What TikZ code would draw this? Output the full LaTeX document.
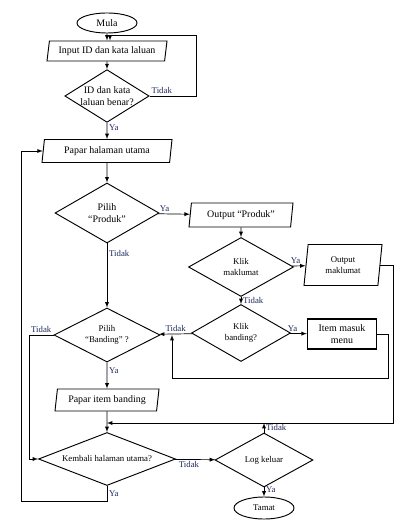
\documentclass[tikz,border=0pt]{standalone}
\usepackage{fontspec}
\setmainfont{Liberation Serif}
\definecolor{labelcol}{RGB}{30,40,90}
\usetikzlibrary{shapes.geometric,arrows}
\newcommand{\fcbig}{\fontsize{8.5}{10.5}\selectfont}
\newcommand{\fcsmall}{\fontsize{7.5}{9.5}\selectfont}

\begin{document}
\begin{tikzpicture}[x=0.3mm,y=-0.3mm,>=latex,semithick,
  terminal/.style={ellipse,draw,thick,inner sep=0pt,minimum width=18mm},
  io/.style={trapezium,trapezium left angle=78,trapezium right angle=102,
    trapezium stretches body,draw,thick,inner sep=1pt,align=center},
  decision/.style={diamond,draw,thick,inner sep=0pt,align=center},
  process/.style={rectangle,draw,line width=1.2pt,inner sep=1pt,align=center},
  lbl/.style={font=\fcsmall,text=labelcol,inner sep=1.5pt}
]
\useasboundingbox (0,0) rectangle (415,526);

% main column
\node[terminal,minimum height=6mm,font=\fcbig] (mula) at (107,23) {Mula};
\node[io,minimum width=36mm,minimum height=6mm,font=\fcbig] (input) at (107,51) {Input ID dan kata laluan};
\node[decision,minimum width=24.9mm,minimum height=15.3mm,shape aspect=1.6,font=\fcbig] (idok) at (107,96) {ID dan kata\\laluan benar?};
\node[io,minimum width=39mm,minimum height=6.9mm,font=\fcbig] (papar) at (107,151) {Papar halaman utama};
\node[decision,minimum width=31.2mm,minimum height=18mm,shape aspect=1.7,font=\fcbig] (pilihproduk) at (107,213) {Pilih\\“Produk”};
\node[decision,minimum width=31.8mm,minimum height=16.2mm,shape aspect=2,font=\fcsmall] (pilihband) at (107,335) {Pilih\\“Banding” ?};
\node[io,minimum width=31.2mm,minimum height=6.6mm,font=\fcbig] (paparitem) at (107,400) {Papar item banding};
\node[decision,minimum width=41.1mm,minimum height=15.9mm,shape aspect=2.6,font=\fcsmall] (kembali) at (107,459) {Kembali halaman utama?};

% produk branch
\node[io,minimum width=31.2mm,minimum height=7.2mm,font=\fcbig] (outproduk) at (241,215) {Output “Produk”};
\node[decision,minimum width=31.5mm,minimum height=17.7mm,shape aspect=1.8,font=\fcsmall] (klikinfo) at (241,267) {Klik\\maklumat};
\node[io,minimum width=23.4mm,minimum height=12.3mm,font=\fcsmall] (outinfo) at (343,265) {Output\\maklumat};
\node[decision,minimum width=29.7mm,minimum height=17.1mm,shape aspect=1.7,font=\fcsmall] (klikband) at (241,333) {Klik\\banding?};
\node[process,minimum width=20.7mm,minimum height=9mm,font=\fcbig] (item) at (342,334) {Item masuk\\menu};

% log out
\node[decision,minimum width=29.4mm,minimum height=16.2mm,shape aspect=1.8,font=\fcsmall] (logout) at (264,460) {Log keluar};
\node[terminal,minimum height=6.6mm,font=\fcsmall] (tamat) at (264,508) {Tamat};

% corners of the loops
\coordinate (loopr) at (196,35);
\coordinate (loopin) at (110,35);
\coordinate (loopbl) at (21,501);
\coordinate (loopl) at (29,459);
\coordinate (retr) at (393,423);
\coordinate (retm) at (107,423);
\coordinate (itemr) at (388,378);
\coordinate (iteml) at (172,378);

% straight arrows
\draw[->] (mula) -- (input);
\draw[->] (input) -- (idok);
\draw[->] (idok) -- node[lbl,right,pos=0.3] {Ya} (papar);
\draw[->] (papar) -- (pilihproduk);
\draw[->] (pilihproduk) -- node[lbl,right,pos=0.15] {Tidak} (pilihband);
\draw[->] (pilihproduk) -- node[lbl,above,pos=0.2] {Ya} (outproduk);
\draw[->] (outproduk) -- (klikinfo);
\draw[->] (klikinfo) -- node[lbl,above,pos=0.25] {Ya} (outinfo);
\draw[->] (klikinfo) -- node[lbl,right,pos=0.5] {Tidak} (klikband);
\draw[->] (klikband) -- node[lbl,above,pos=0.15] {Ya} (item);
\draw[->] (klikband) -- node[lbl,above] {Tidak} (pilihband);
\draw[->] (pilihband) -- node[lbl,right,pos=0.3] {Ya} (paparitem);
\draw[->] (paparitem) -- (kembali);
\draw[->] (kembali) -- node[lbl,below,pos=0.35] {Tidak} (logout);
\draw[->] (logout) -- node[lbl,right,pos=0.2] {Ya} (tamat);
\draw[->] (logout.north) -- node[lbl,right] {Tidak} (logout.north |- retr);

% the loops
\draw[->] (idok.east) node[lbl,anchor=south west] {Tidak} -| (loopr) -- (loopin) -- (loopin |- input.north);
\draw[->] (kembali.south) -- node[lbl,right] {Ya} (kembali.south |- loopbl) -- (loopbl) |- (papar.west);
\draw[->] (pilihband.west) -- node[lbl,above] {Tidak} (pilihband.west -| loopl) -- (loopl) -- (kembali.west);
\draw[->] (outinfo.east) -| (retr) -- (retm);
\draw[->] (item.east) -| (itemr) -- (iteml) -- (iteml |- pilihband.east);

\end{tikzpicture}
\end{document}
